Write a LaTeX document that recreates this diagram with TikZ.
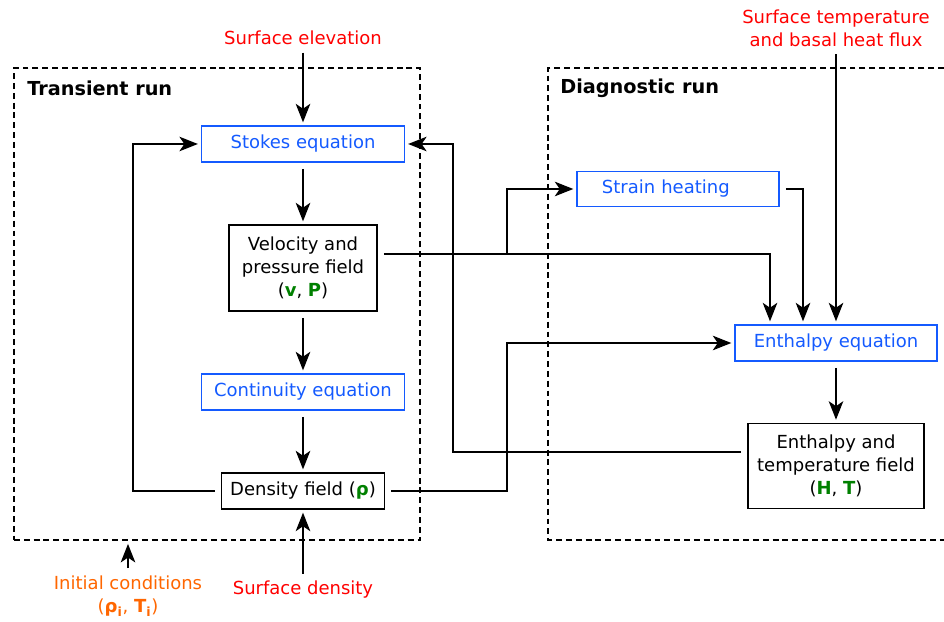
\documentclass[tikz,border=0pt]{standalone}
\usepackage{fontspec}
\setmainfont{DejaVu Sans}
\usetikzlibrary{arrows.meta,calc}
\definecolor{eqblue}{RGB}{20,90,255}
\definecolor{inred}{RGB}{255,0,0}
\definecolor{inorange}{RGB}{255,102,0}
\definecolor{fgreen}{RGB}{0,128,0}
\newcommand{\fld}[1]{\textcolor{fgreen}{\textbf{#1}}}

\begin{document}
\begin{tikzpicture}[x=0.025cm,y=-0.025cm,
        font=\fontsize{12.8}{16.3}\selectfont,
        eqbox/.style={draw=eqblue,text=eqblue,line width=1.2pt,minimum width=5.07cm,minimum height=0.9cm},
        fieldbox/.style={draw,line width=1.2pt,align=center},
        runbox/.style={draw,line width=1.5pt,dash pattern=on 4.2pt off 2.8pt},
        flow/.style={line width=1.7pt,-{Stealth[length=4.6mm,width=3.6mm,inset=1.2mm]},shorten <=0.15cm,shorten >=2pt},
        source/.style={align=center,inner sep=1pt},
        title/.style={anchor=west,inner sep=0pt,font=\fontsize{13.7}{16}\selectfont\bfseries}]
        \useasboundingbox (0,0) rectangle (944,622);
        % the two runs
        \node[runbox,minimum width=10.15cm,minimum height=11.8cm] (trans) at (217,304) {};
        \draw[runbox] (944,68) -- (548,68) -- (548,540) -- (944,540);
        \node[title] (ttrans) at (27,88) {Transient run};
        \node[title] (tdiag) at (560,88) {Diagnostic run};

        \node[eqbox] (stokes) at (303,144) {Stokes equation};
        \node[fieldbox,minimum width=3.7cm,minimum height=2.15cm] (vel) at (303,268) {Velocity and\\pressure field\\(\fld{v}, \fld{P})};
        \node[eqbox] (cont) at (303,392) {Continuity equation};
        \node[fieldbox,minimum width=4.08cm,minimum height=0.9cm] (dens) at (303,491) {Density field (\fld{ρ})};
        \node[eqbox,minimum width=5.05cm,minimum height=0.88cm,text width=3.8cm,align=left] (strain) at (678,189) {Strain heating};
        \node[eqbox,minimum width=5.05cm] (enth) at (836,343) {Enthalpy equation};
        \node[fieldbox,minimum width=4.4cm,minimum height=2.13cm] (htf) at (836,466) {Enthalpy and\\temperature field\\(\fld{H}, \fld{T})};

        % boundary inputs
        \node[source,text=inred] (selev) at (303,38) {Surface elevation};
        \node[source,text=inred] (stemp) at (836,28) {Surface temperature\\and basal heat flux};
        \node[source,text=inred] (sdens) at (303,590) {Surface density};
        \node[source,text=inorange] (initc) at (128,596) {Initial conditions\\(\textbf{ρ\textsubscript{i}}, \textbf{T\textsubscript{i}})};

        \coordinate (loopL) at (133,0);
        \coordinate (bus) at (507,0);
        \coordinate (ret) at (453,0);
        \coordinate (vout) at ($(vel.east)+(0,-14)$);
        \coordinate (hout) at ($(htf.west)+(0,-14)$);

        \draw[flow] (selev.south) -- (stokes.north);
        \draw[flow] (stokes) -- (vel);
        \draw[flow] (vel) -- (cont);
        \draw[flow] (cont) -- (dens);
        \draw[flow] (sdens.north) -- (dens.south);
        \draw[flow] (initc.north) -- (initc.north |- trans.south);
        \draw[flow] (dens.west) -- (dens.west -| loopL) |- (stokes.west);
        \draw[flow] (vout) -| ($(enth.north)+(-66,0)$);
        \draw[flow,shorten <=0pt] (vout -| bus) |- (strain.west);
        \draw[flow] (strain.east) -| ($(enth.north)+(-33,0)$);
        \draw[flow] (stemp.south) -- (enth.north);
        \draw[flow] (dens.east) -- (dens.east -| bus) |- (enth.west);
        \draw[flow] (enth) -- (htf);
        \draw[flow] (hout) -| (ret |- stokes.east) -- (stokes.east);
    \end{tikzpicture}
\end{document}
